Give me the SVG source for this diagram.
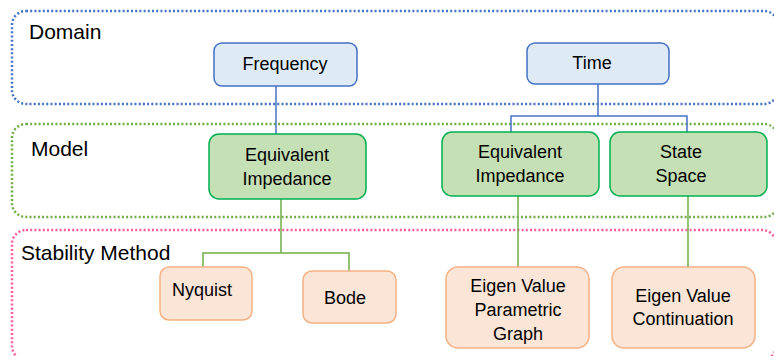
<svg xmlns="http://www.w3.org/2000/svg" width="774" height="356" viewBox="0 0 774 356">
<style>
.lane{fill:none;stroke-width:2.5;stroke-dasharray:2 2.2;}
.lbl{font-family:"Liberation Sans",Arial,sans-serif;font-size:21px;fill:#000;}
.t{font-family:"Liberation Sans",Arial,sans-serif;font-size:18px;fill:#000;text-anchor:middle;}
.dom{fill:#DEEBF7;stroke:#4472C4;stroke-width:1.5;}
.mod{fill:#C5E0B4;stroke:#00B050;stroke-width:1.5;}
.stab{fill:#FBE5D6;stroke:#F4B183;stroke-width:1.5;}
.cb{fill:none;stroke:#4472C4;stroke-width:1.5;}
.cg{fill:none;stroke:#70AD47;stroke-width:1.5;}
</style>
<rect width="774" height="356" fill="#fff"/>
<g id="lane-domain"><rect class="lane" x="12" y="11" width="766" height="93" rx="14" stroke="#4472C4"/><text class="lbl" x="29" y="39">Domain</text></g>
<g id="lane-model"><rect class="lane" x="12" y="124" width="766" height="93" rx="14" stroke="#70AD47"/><text class="lbl" x="31" y="156">Model</text></g>
<g id="lane-stability"><rect class="lane" x="12" y="230" width="764" height="130" rx="14" stroke="#FF5C9D"/><text class="lbl" x="21" y="260">Stability Method</text></g>
<g id="connectors">
<path class="cb" d="M276 86V134"/>
<path class="cb" d="M598 84V116H511V132M598 116H687V132"/>
<path class="cg" d="M281 199V253H203V267M281 253H349V271"/>
<path class="cg" d="M518 196V267"/>
<path class="cg" d="M688 196V267"/>
</g>
<g id="n-frequency"><rect class="dom" x="214" y="43" width="143" height="43" rx="8"/><text class="t" x="285" y="70">Frequency</text></g>
<g id="n-time"><rect class="dom" x="527" y="43" width="142" height="41" rx="8"/><text class="t" x="592" y="69">Time</text></g>
<g id="n-ei-freq"><rect class="mod" x="209" y="134" width="157" height="65" rx="10"/><text class="t" x="287" y="161">Equivalent</text><text class="t" x="287" y="185">Impedance</text></g>
<g id="n-ei-time"><rect class="mod" x="442" y="132" width="157" height="64" rx="10"/><text class="t" x="520" y="158">Equivalent</text><text class="t" x="520" y="182">Impedance</text></g>
<g id="n-state"><rect class="mod" x="610" y="132" width="157" height="64" rx="10"/><text class="t" x="681" y="158">State</text><text class="t" x="681" y="182">Space</text></g>
<g id="n-nyquist"><rect class="stab" x="160" y="267" width="92" height="53" rx="9"/><text class="t" x="202" y="296">Nyquist</text></g>
<g id="n-bode"><rect class="stab" x="303" y="271" width="93" height="52" rx="9"/><text class="t" x="345" y="304">Bode</text></g>
<g id="n-evpg"><rect class="stab" x="446" y="267" width="143" height="81" rx="12"/><text class="t" x="518" y="292">Eigen Value</text><text class="t" x="518" y="316">Parametric</text><text class="t" x="518" y="340">Graph</text></g>
<g id="n-evc"><rect class="stab" x="612" y="267" width="143" height="81" rx="12"/><text class="t" x="683" y="302">Eigen Value</text><text class="t" x="683" y="325">Continuation</text></g>
</svg>
